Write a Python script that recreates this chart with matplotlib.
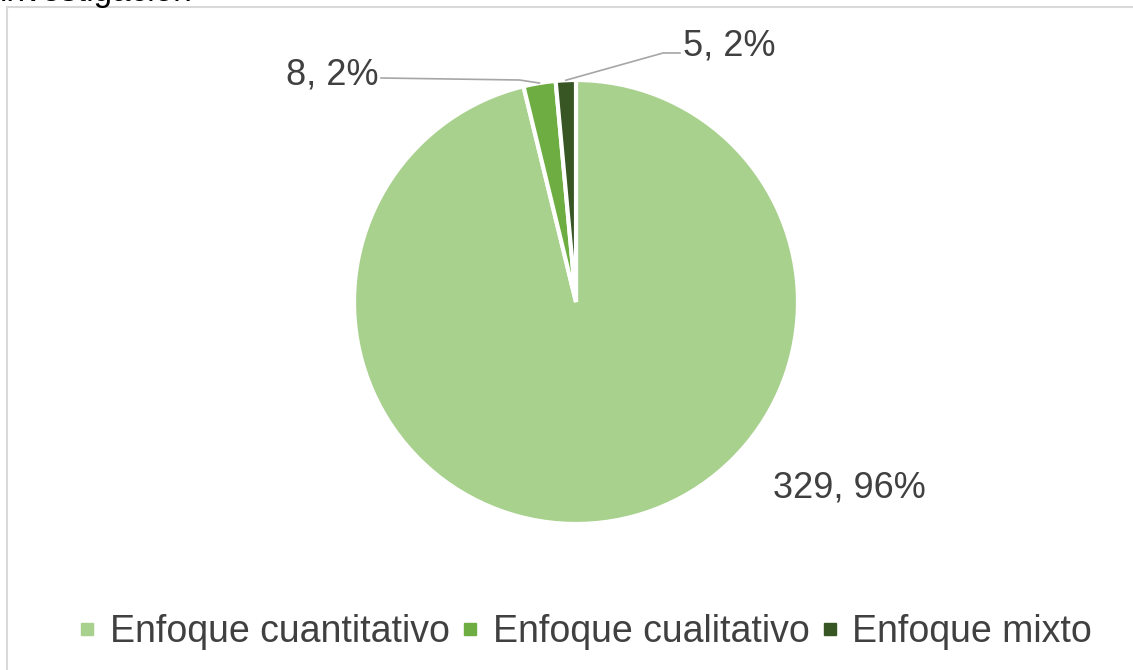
import matplotlib
matplotlib.use("Agg")
import matplotlib.pyplot as plt
import numpy as np

plt.rcParams['font.family'] = ['Liberation Sans', 'DejaVu Sans']

categories = ['Enfoque cuantitativo', 'Enfoque cualitativo', 'Enfoque mixto']
counts = [329, 8, 5]
percent_labels = ['96%', '2%', '2%']
colors = ['#A9D18E', '#6DAD42', '#375623']
text_color = '#404040'

W, H = 1133, 670
fig = plt.figure(figsize=(W / 100, H / 100), dpi=100)
ax = fig.add_axes([0, 0, 1, 1])

# pie centre / radius in pixel coordinates (y counted from the bottom)
cx, cy, r = 576, H - 302, 222
wedges, _ = ax.pie(counts, colors=colors, startangle=90, counterclock=False,
                   center=(cx, cy), radius=r, frame=True,
                   wedgeprops=dict(edgecolor='white', linewidth=3))
ax.set_xlim(0, W)
ax.set_ylim(0, H)
ax.set_aspect('equal')
ax.axis('off')

labels = [f'{c}, {p}' for c, p in zip(counts, percent_labels)]

# big slice: plain text, no leader
ax.text(773, H - 488, labels[0], fontsize=26, color=text_color,
        ha='left', va='center')

# small slices: text with leader lines to the wedge edge
label_pos = {1: (378, H - 75, 'right'), 2: (683, H - 46, 'left')}
for i in (1, 2):
    w = wedges[i]
    mid = np.deg2rad((w.theta1 + w.theta2) / 2)
    px, py = cx + r * np.cos(mid), cy + r * np.sin(mid)
    tx, ty, ha = label_pos[i]
    ax.text(tx, ty, labels[i], fontsize=26, color=text_color,
            ha=ha, va='center')
    if i == 1:
        xs = [tx + 3, px - 20, px]
        ys = [ty - 3, ty - 5, py]
    else:
        xs = [tx - 3, tx - 20, px]
        ys = [ty - 7, ty - 7, py]
    ax.plot(xs, ys, color='#A6A6A6', linewidth=1.2)

# chart area border (top and left edges visible)
ax.plot([7, W + 5], [H - 7, H - 7], color='#D9D9D9', linewidth=1.5, clip_on=False)
ax.plot([7, 7], [H - 7, -5], color='#D9D9D9', linewidth=1.5, clip_on=False)

# cut-off title remnant at the very top
ax.text(0, H - 1.5, 'investigación', fontsize=24, color='black',
        ha='left', va='baseline', clip_on=False)

handles = [plt.Line2D([], [], marker='s', linestyle='', markersize=8,
                      markerfacecolor=c, markeredgecolor=c) for c in colors]
leg = fig.legend(handles, categories, loc='center', ncol=3, frameon=False,
                 bbox_to_anchor=(584 / W, 38 / H), fontsize=27,
                 handlelength=0.6, handletextpad=0.3, columnspacing=0.25,
                 labelcolor=text_color)

fig.savefig('out.png', dpi=100)
